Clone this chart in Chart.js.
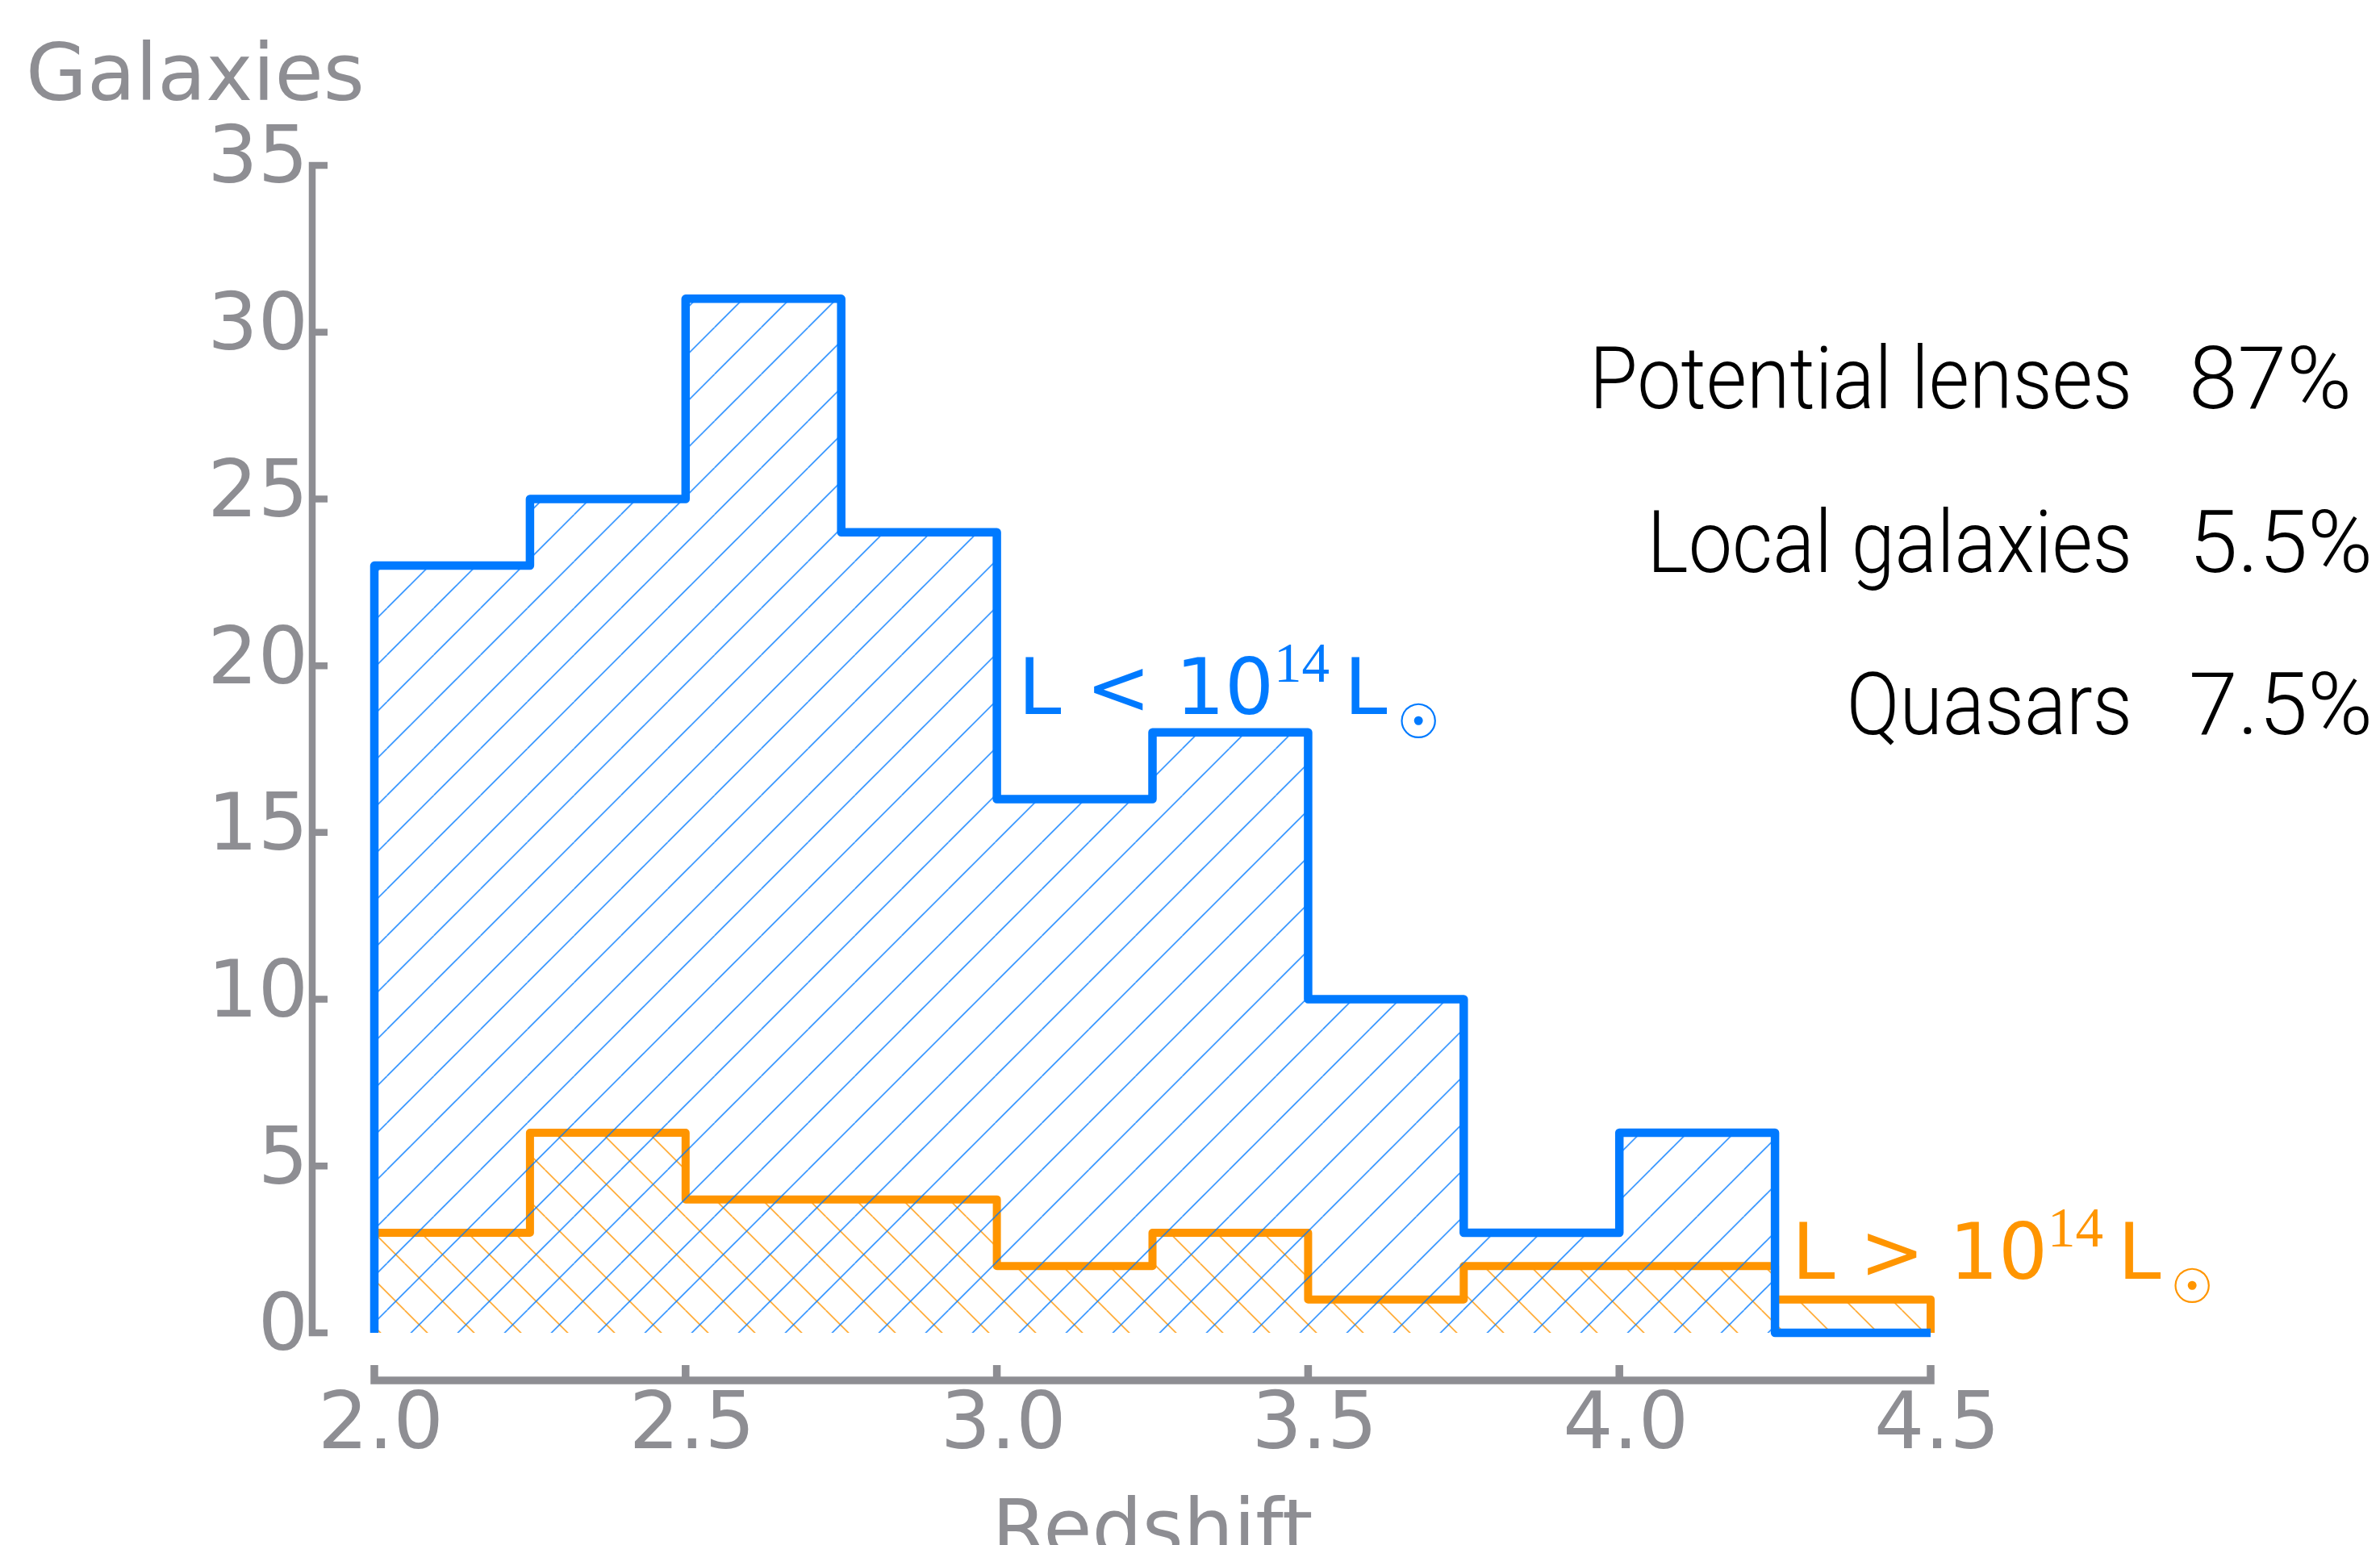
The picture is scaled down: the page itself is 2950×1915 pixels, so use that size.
<!DOCTYPE html>
<html>
<head>
<meta charset="utf-8">
<script src="https://cdn.jsdelivr.net/npm/chart.js@4.4.1/dist/chart.umd.min.js"></script>
<style>
  html, body { margin: 0; padding: 0; background: #fff; }
  canvas { display: block; }
</style>
</head>
<body>
<canvas id="histo" width="2950" height="1915"></canvas>
<script>
// histogram bins (redshift) and counts
const binEdges = [2.0, 2.25, 2.5, 2.75, 3.0, 3.25, 3.5, 3.75, 4.0, 4.25, 4.5];
const countsFaint = [23, 25, 31, 24, 16, 18, 10, 3, 6, 0];   // L < 10^14 Lsun
const countsBright = [3, 6, 4, 4, 2, 3, 1, 2, 2, 1];         // L > 10^14 Lsun
const xTicks = [2.0, 2.5, 3.0, 3.5, 4.0, 4.5];
const yTicks = [0, 5, 10, 15, 20, 25, 30, 35];
const classNames = ["Potential lenses", "Local galaxies", "Quasars"];
const classShares = ["87%", "5.5%", "7.5%"];

const BLUE = '#007aff';
const ORANGE = '#ff9500';
const GREY = '#8e8e93';
const tickFont = { family: '"DejaVu Sans"', size: 98, lineHeight: 1 };

const canvas = document.getElementById('histo');
const ctx = canvas.getContext('2d');

// outline of a step histogram, starting and ending on zero
function stepPoints(counts) {
  const pts = [{ x: binEdges[0], y: 0 }];
  counts.forEach((c, i) => pts.push({ x: binEdges[i], y: c }));
  pts.push({ x: binEdges[binEdges.length - 1], y: 0 });
  return pts;
}

// matplotlib-like hatch
function hatch(color, dir, shift) {
  const P = 58;
  const tile = document.createElement('canvas');
  tile.width = P; tile.height = P;
  const g = tile.getContext('2d');
  g.strokeStyle = color;
  g.lineWidth = 1.4;
  g.beginPath();
  for (const k of [-P, 0, P]) {
    if (dir === '/') { g.moveTo(k, P); g.lineTo(k + P, 0); }
    else { g.moveTo(k, 0); g.lineTo(k + P, P); }
  }
  g.stroke();
  const pat = ctx.createPattern(tile, 'repeat');
  pat.setTransform(new DOMMatrix().translate(shift, 0));
  return pat;
}

// detached spines with inward ticks
const spines = {
  id: 'spines',
  afterDraw(chart) {
    const c = chart.ctx;
    const xs = chart.scales.x, ys = chart.scales.y;
    const ax = chart.chartArea.left - 77;
    const ay = chart.chartArea.bottom + 59;
    const tl = 19;
    c.save();
    c.strokeStyle = GREY;
    c.lineCap = 'butt';
    c.lineJoin = 'miter';
    c.lineWidth = 8.5;
    const yTop = ys.getPixelForValue(yTicks[yTicks.length - 1]);
    const yBot = ys.getPixelForValue(yTicks[0]);
    c.beginPath();
    c.moveTo(ax + tl, yTop); c.lineTo(ax, yTop); c.lineTo(ax, yBot); c.lineTo(ax + tl, yBot);
    yTicks.slice(1, -1).forEach(v => {
      const p = ys.getPixelForValue(v);
      c.moveTo(ax, p); c.lineTo(ax + tl, p);
    });
    c.stroke();
    c.lineWidth = 9.5;
    const xL = xs.getPixelForValue(xTicks[0]);
    const xR = xs.getPixelForValue(xTicks[xTicks.length - 1]);
    c.beginPath();
    c.moveTo(xL, ay - tl); c.lineTo(xL, ay); c.lineTo(xR, ay); c.lineTo(xR, ay - tl);
    xTicks.slice(1, -1).forEach(v => {
      const p = xs.getPixelForValue(v);
      c.moveTo(p, ay); c.lineTo(p, ay - tl);
    });
    c.stroke();
    c.restore();
  }
};

function drawLum(c, x0, base, rel, color) {
  c.fillStyle = color;
  c.textAlign = 'left';
  c.textBaseline = 'alphabetic';
  c.font = '96px "DejaVu Sans"';
  const main = 'L ' + rel + ' 10';
  c.fillText(main, x0, base);
  let x = x0 + c.measureText(main).width;
  c.font = '69px "Liberation Serif"';
  c.fillText('14', x, base - 40);
  x += c.measureText('14').width + 18;
  c.font = '96px "DejaVu Sans"';
  c.fillText('L', x, base);
  // subscript sun symbol, fitted to a 44px circle
  const cx = x + 92, cy = base + 8;
  c.font = '100px "DejaVu Sans"';
  let m = c.measureText('\u2609');
  const size = 100 * 44 / (m.actualBoundingBoxAscent + m.actualBoundingBoxDescent);
  c.font = size.toFixed(1) + 'px "DejaVu Sans"';
  m = c.measureText('\u2609');
  const w = m.actualBoundingBoxRight + m.actualBoundingBoxLeft;
  c.fillText('\u2609', cx - w / 2 + m.actualBoundingBoxLeft,
    cy + (m.actualBoundingBoxAscent - m.actualBoundingBoxDescent) / 2);
}

const notes = {
  id: 'notes',
  afterDraw(chart) {
    const c = chart.ctx;
    c.save();
    c.fillStyle = GREY;
    c.font = '98px "DejaVu Sans"';
    c.textAlign = 'left';
    c.textBaseline = 'alphabetic';
    c.fillText('Galaxies', 32, 124);

    drawLum(c, 1262, 885, '<', BLUE);
    drawLum(c, 2221, 1585, '>', ORANGE);

    // light sans block, squeezed to the width of the original lettering
    c.fillStyle = '#000';
    c.font = '300 108px "Roboto Light", Roboto';
    const squeeze = 673 / c.measureText(classNames[0]).width;
    const squeezePct = 228 / c.measureText(classShares[1]).width;
    const rows = [506, 709, 910];
    classNames.forEach((name, i) => {
      c.save();
      c.translate(2643, rows[i]);
      c.scale(squeeze, 1);
      c.textAlign = 'right';
      c.fillText(name, 0, 0);
      c.restore();
      c.save();
      c.translate(2713, rows[i]);
      c.scale(squeezePct, 1);
      c.textAlign = 'left';
      c.fillText(classShares[i], 0, 0);
      c.restore();
    });
    c.restore();
  }
};

new Chart(ctx, {
  type: 'line',
  data: {
    datasets: [
      {
        label: 'L < 10^14',
        data: stepPoints(countsFaint),
        stepped: true,
        borderColor: BLUE,
        borderWidth: 10.5,
        borderJoinStyle: 'round',
        borderCapStyle: 'butt',
        backgroundColor: hatch(BLUE, '/', 15.5),
        fill: 'origin',
        pointRadius: 0,
        clip: false
      },
      {
        label: 'L > 10^14',
        data: stepPoints(countsBright),
        stepped: true,
        borderColor: ORANGE,
        borderWidth: 10,
        borderJoinStyle: 'round',
        borderCapStyle: 'butt',
        backgroundColor: hatch(ORANGE, '\\', 37.6),
        fill: 'origin',
        pointRadius: 0,
        clip: false
      }
    ]
  },
  options: {
    responsive: false,
    animation: false,
    devicePixelRatio: 1,
    layout: { padding: { top: 205, right: 557, bottom: 0, left: 0 } },
    plugins: { legend: { display: false }, tooltip: { enabled: false } },
    scales: {
      x: {
        type: 'linear',
        min: 2.0,
        max: 4.5,
        afterBuildTicks: s => { s.ticks = xTicks.map(v => ({ value: v })); },
        afterFit: s => { s.height = 263; },
        grid: { display: false, drawTicks: false },
        border: { display: false },
        ticks: {
          font: tickFont, color: GREY, padding: 69, labelOffset: 8,
          maxRotation: 0, autoSkip: false,
          callback: v => v.toFixed(1)
        },
        title: {
          display: true, text: 'Redshift', color: GREY,
          font: { family: '"DejaVu Sans"', size: 98, lineHeight: 0.1 },
          padding: { top: 0, bottom: 8 }
        }
      },
      y: {
        min: 0,
        max: 35,
        afterBuildTicks: s => { s.ticks = yTicks.map(v => ({ value: v })); },
        afterFit: s => { s.width = 464; },
        grid: { display: false, drawTicks: false },
        border: { display: false },
        ticks: { font: tickFont, color: GREY, padding: 82, labelOffset: -4, autoSkip: false }
      }
    }
  },
  plugins: [spines, notes]
});
</script>
</body>
</html>
